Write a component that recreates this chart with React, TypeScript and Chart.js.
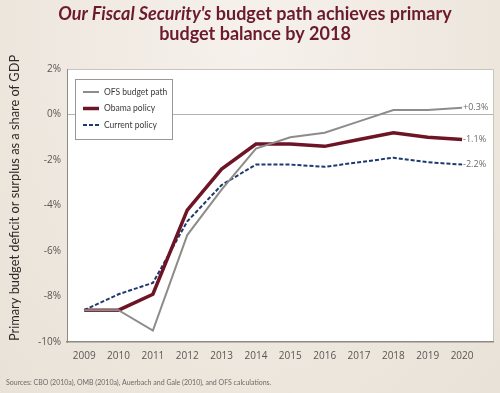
import React, { useEffect, useRef } from "react";
import { Chart, registerables } from "chart.js";

Chart.register(...registerables);

const years = [2009, 2010, 2011, 2012, 2013, 2014, 2015, 2016, 2017, 2018, 2019, 2020];
const ofsPath = [-8.6, -8.6, -9.5, -5.3, -3.3, -1.5, -1.0, -0.8, -0.3, 0.2, 0.2, 0.3];
const obamaPolicy = [-8.6, -8.6, -7.9, -4.2, -2.4, -1.3, -1.3, -1.4, -1.1, -0.8, -1.0, -1.1];
const currentPolicy = [-8.6, -7.9, -7.4, -4.7, -3.1, -2.2, -2.2, -2.3, -2.1, -1.9, -2.1, -2.2];
const seriesNames = ["OFS budget path", "Obama policy", "Current policy"];
const endLabels = ["+0.3%", "-1.1%", "-2.2%"];
const yTicks = [2, 0, -2, -4, -6, -8, -10];
const titleLines = ["Our Fiscal Security's budget path achieves primary", "budget balance by 2018"];
const yTitle = "Primary budget deficit or surplus as a share of GDP";
const sourceText = "Sources: CBO (2010a), OMB (2010a), Auerbach and Gale (2010), and OFS calculations.";

const FONT = "'Open Sans', 'DejaVu Sans', sans-serif";
const TFONT = "Lato, 'Open Sans', sans-serif";

const chartDecor = {
  id: "chartDecor",
  beforeDraw(chart: any) {
    const { ctx, chartArea: a } = chart;
    ctx.save();
    ctx.fillStyle = "#ffffff";
    ctx.fillRect(a.left, a.top, a.right - a.left, a.bottom - a.top);
    ctx.strokeStyle = "#c9c4be";
    ctx.lineWidth = 1;
    ctx.beginPath();
    ctx.moveTo(a.left, a.top + 0.5);
    ctx.lineTo(a.right + 0.5, a.top + 0.5);
    ctx.lineTo(a.right + 0.5, a.bottom);
    ctx.stroke();
    ctx.restore();
  },
  afterDraw(chart: any) {
    const { ctx } = chart;
    const xs = chart.scales.x;
    const ys = chart.scales.y;
    ctx.save();
    // title
    ctx.textBaseline = "middle";
    ctx.fillStyle = "#6b1b2c";
    const cx = 255;
    const l1y = 14;
    const l2y = 34;
    const italicPart = "Our Fiscal Security's";
    const rest = titleLines[0].slice(italicPart.length);
    ctx.font = `italic bold 18px ${TFONT}`;
    const w1 = ctx.measureText(italicPart).width;
    ctx.font = `bold 18px ${TFONT}`;
    const w2 = ctx.measureText(rest).width;
    const start = cx - (w1 + w2) / 2;
    ctx.textAlign = "left";
    ctx.font = `italic bold 18px ${TFONT}`;
    ctx.fillText(italicPart, start, l1y);
    ctx.font = `bold 18px ${TFONT}`;
    ctx.fillText(rest, start + w1, l1y);
    ctx.textAlign = "center";
    ctx.fillText(titleLines[1], cx, l2y);

    // y-axis title
    ctx.save();
    ctx.translate(15, 198);
    ctx.rotate(-Math.PI / 2);
    ctx.fillStyle = "#2e2a27";
    ctx.font = `12.8px ${TFONT}`;
    ctx.textAlign = "center";
    ctx.fillText(yTitle, 0, 0);
    ctx.restore();

    // source
    ctx.textAlign = "left";
    ctx.fillStyle = "#6e6a66";
    ctx.font = `7px ${TFONT}`;
    ctx.fillText(sourceText, 6, 383);

    // end labels
    ctx.font = `9px ${FONT}`;
    ctx.fillStyle = "#6e6a66";
    chart.data.datasets.forEach((ds: any, i: number) => {
      const last = ds.data[ds.data.length - 1];
      const px = xs.getPixelForValue(last.x);
      const py = ys.getPixelForValue(last.y);
      ctx.fillText(endLabels[i], px + 1, py);
    });

    // legend box
    const lx = 75, ly = 79, lw = 97, lh = 60;
    ctx.fillStyle = "#ffffff";
    ctx.fillRect(lx, ly, lw, lh);
    ctx.strokeStyle = "#9a9692";
    ctx.lineWidth = 1;
    ctx.strokeRect(lx + 0.5, ly + 0.5, lw, lh);
    ctx.font = `8.5px ${TFONT}`;
    chart.data.datasets.forEach((ds: any, i: number) => {
      const y = ly + 13 + i * 16.5;
      ctx.save();
      ctx.strokeStyle = ds.borderColor;
      ctx.lineWidth = ds.borderWidth;
      ctx.setLineDash(ds.borderDash || []);
      ctx.beginPath();
      ctx.moveTo(lx + 8, y);
      ctx.lineTo(lx + 24, y);
      ctx.stroke();
      ctx.restore();
      ctx.fillStyle = "#3a3a3a";
      ctx.fillText(ds.label, lx + 29, y);
    });
    ctx.restore();
  },
};

export default function App() {
  const ref = useRef<HTMLCanvasElement | null>(null);
  useEffect(() => {
    document.body.style.margin = "0";
    const mk = (arr: number[]) => years.map((x, i) => ({ x, y: arr[i] }));
    const chart = new Chart(ref.current!, {
      type: "line",
      data: {
        datasets: [
          {
            label: seriesNames[0],
            data: mk(ofsPath),
            borderColor: "#8e8c8a",
            borderWidth: 2,
            pointRadius: 0,
            tension: 0,
          },
          {
            label: seriesNames[1],
            data: mk(obamaPolicy),
            borderColor: "#6d1526",
            borderWidth: 3.5,
            pointRadius: 0,
            tension: 0,
          },
          {
            label: seriesNames[2],
            data: mk(currentPolicy),
            borderColor: "#1c3a6e",
            borderWidth: 2,
            borderDash: [4, 2],
            pointRadius: 0,
            tension: 0,
          },
        ] as any,
      },
      plugins: [chartDecor],
      options: {
        animation: false,
        responsive: false,
        layout: { padding: { left: 4, right: 7, top: 69, bottom: 31 } },
        plugins: {
          legend: { display: false },
          title: { display: false },
          tooltip: { enabled: false },
        },
        scales: {
          x: {
            type: "linear",
            min: 2008.5,
            max: 2020.9,
            afterBuildTicks: (s: any) => {
              s.ticks = years.map((v) => ({ value: v }));
            },
            afterFit: (s: any) => {
              s.height = 20;
            },
            grid: { display: false, drawTicks: false },
            border: { display: true, color: "#8d8985", width: 1.5 },
            ticks: {
              color: "#5a5652",
              font: { family: FONT, size: 10 },
              padding: 8,
              maxRotation: 0,
              callback: (v: any) => String(v),
            },
          },
          y: {
            min: -10,
            max: 2,
            afterBuildTicks: (s: any) => {
              s.ticks = yTicks.map((v) => ({ value: v }));
            },
            afterFit: (s: any) => {
              s.width = 63;
            },
            grid: {
              drawTicks: false,
              color: (c: any) => (c.tick && c.tick.value === 0 ? "#b5b1ad" : "rgba(0,0,0,0)"),
              lineWidth: 1,
            },
            border: { display: true, color: "#8d8985", width: 1 },
            ticks: {
              color: "#5a5652",
              font: { family: FONT, size: 10 },
              padding: 6,
              callback: (v: any) => `${v}%`,
            },
          },
        },
      },
    });
    return () => chart.destroy();
  }, []);
  return (
    <div
      style={{
        width: 500,
        height: 393,
        background: "radial-gradient(ellipse at 50% 10%, #f6f1ec 0%, #ede6dd 70%, #e9e2d9 100%)",
      }}
    >
      <canvas ref={ref} width={500} height={393} style={{ display: "block" }} />
    </div>
  );
}
